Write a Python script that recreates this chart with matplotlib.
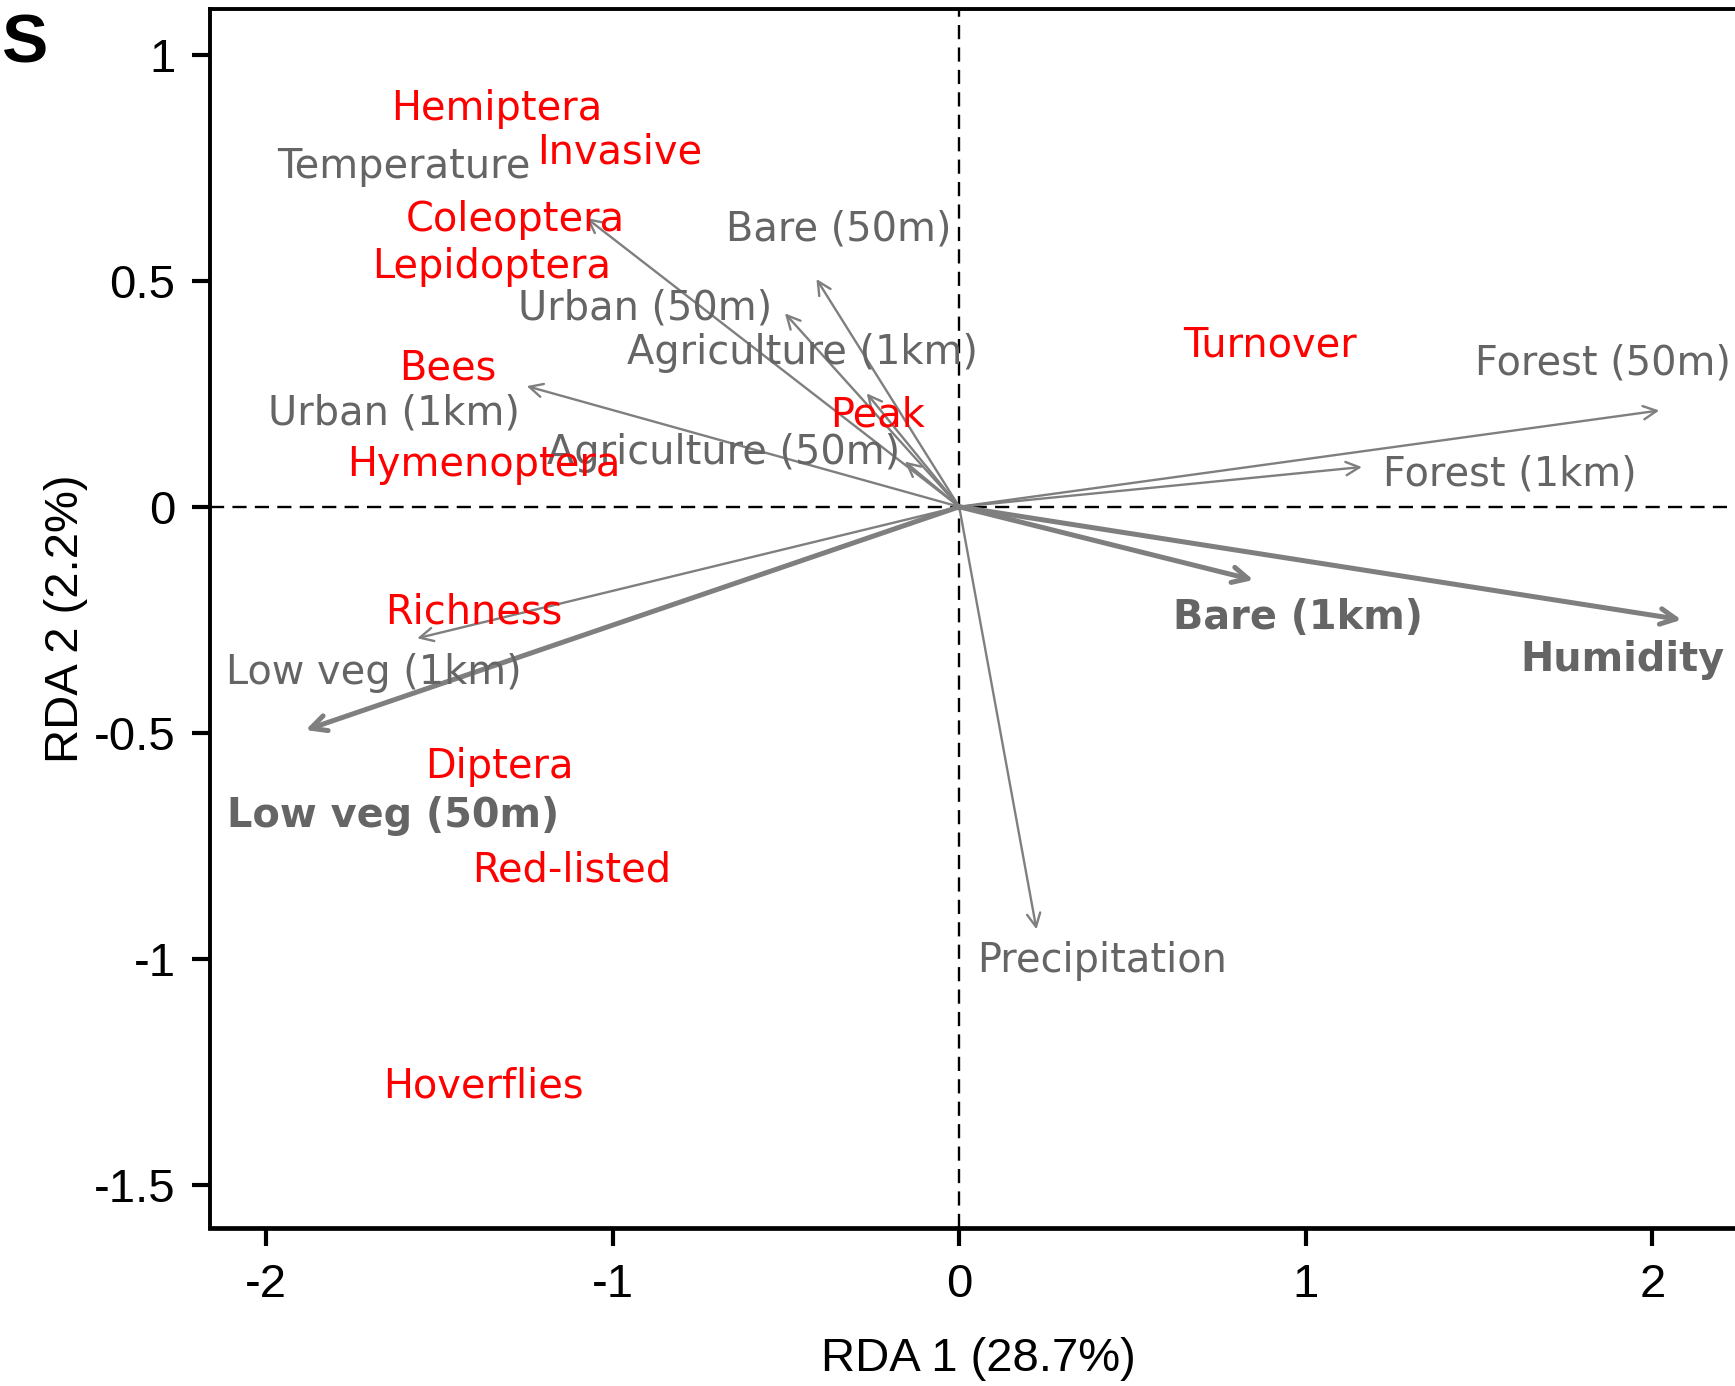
import matplotlib
matplotlib.use('Agg')
import matplotlib.pyplot as plt

plt.rcParams.update({
    'font.family': ['Liberation Sans', 'DejaVu Sans'],
    'font.size': 30,
})

# ── Environmental vectors (biplot scores) ──
env_names = ['Temperature', 'Urban (1km)', 'Bare (50m)', 'Urban (50m)',
             'Agriculture (1km)', 'Agriculture (50m)', 'Forest (50m)',
             'Forest (1km)', 'Bare (1km)', 'Humidity', 'Precipitation',
             'Low veg (1km)', 'Low veg (50m)']
env_x = [-1.076, -1.248, -0.412, -0.503, -0.267, -0.157, 2.020,
         1.162, 0.849, 2.084, 0.223, -1.564, -1.886]
env_y = [0.639, 0.267, 0.504, 0.428, 0.251, 0.100, 0.213,
         0.088, -0.162, -0.250, -0.935, -0.291, -0.494]
env_bold = [False, False, False, False, False, False, False,
            False, True, True, False, False, True]
# where each vector name is written
env_lab_x = [-1.603, -1.631, -0.348, -0.907, -0.453, -0.680, 1.858,
             1.590, 0.977, 1.915, 0.412, -1.689, -1.634]
env_lab_y = [0.752, 0.206, 0.614, 0.438, 0.340, 0.118, 0.316,
             0.071, -0.245, -0.340, -1.004, -0.367, -0.685]

# ── Response variables (site scores) ──
resp_names = ['Hemiptera', 'Invasive', 'Coleoptera', 'Lepidoptera', 'Bees',
              'Hymenoptera', 'Turnover', 'Peak', 'Richness', 'Diptera',
              'Red-listed', 'Hoverflies']
resp_x = [-1.334, -0.980, -1.280, -1.350, -1.475, -1.373, 0.897, -0.236,
          -1.401, -1.328, -1.117, -1.373]
resp_y = [0.881, 0.783, 0.634, 0.531, 0.306, 0.093, 0.357, 0.201,
          -0.233, -0.575, -0.805, -1.283]

fig = plt.figure(figsize=(17.35, 13.86), dpi=100)
ax = fig.add_axes([0.1212, 0.1139, 0.8851, 0.8797])
ax.set_xlim(-2.161, 2.270)
ax.set_ylim(-1.596, 1.1016)

ax.axhline(0, color='black', lw=1.7, ls=(0, (6, 3.5)), zorder=1)
ax.axvline(0, color='black', lw=1.7, ls=(0, (6, 3.5)), zorder=1)

arrow_col = '#7f7f7f'
lab_col = '#656565'
for name, x, y, bold, lx, ly in zip(env_names, env_x, env_y, env_bold,
                                    env_lab_x, env_lab_y):
    lw = 3.6 if bold else 1.7
    ax.annotate('', xy=(x, y), xytext=(0, 0),
                arrowprops=dict(arrowstyle='->', color=arrow_col, lw=lw,
                                shrinkA=0, shrinkB=0,
                                mutation_scale=28 if bold else 24),
                zorder=2)
    ax.text(lx, ly, name, color=lab_col, fontsize=28.7, family='DejaVu Sans',
            fontweight='bold' if bold else 'normal',
            ha='center', va='center', zorder=3)

for name, x, y in zip(resp_names, resp_x, resp_y):
    ax.text(x, y, name, color='#ff0000', fontsize=28.7, family='DejaVu Sans',
            ha='center', va='center', zorder=4)

ax.set_xticks([-2, -1, 0, 1, 2])
ax.set_xticklabels(['-2', '-1', '0', '1', '2'])
ax.set_yticks([-1.5, -1, -0.5, 0, 0.5, 1])
ax.set_yticklabels(['-1.5', '-1', '-0.5', '0', '0.5', '1'])
ax.tick_params(direction='out', length=13, width=3, labelsize=34, pad=12)
for s in ['left', 'top']:
    ax.spines[s].set_linewidth(2.8)
ax.spines['bottom'].set_linewidth(3.4)
ax.spines['right'].set_visible(False)

ax.set_xlabel('RDA 1 (28.7%)', fontsize=34, labelpad=22)
ax.set_ylabel('RDA 2 (2.2%)', fontsize=34, labelpad=4)

fig.text(0.001, 0.968, 'S', fontsize=50, fontweight='bold',
         family=['Liberation Sans', 'DejaVu Sans'], va='center', ha='left')

fig.savefig('out.png', dpi=100)
